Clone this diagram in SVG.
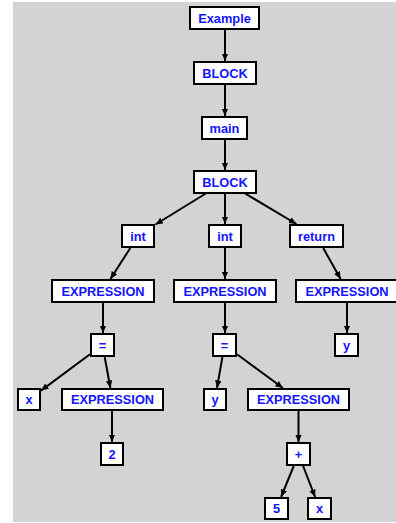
<svg xmlns="http://www.w3.org/2000/svg" width="396" height="523" viewBox="0 0 396 523">
  <style>
    .box { fill: #ffffff; stroke: #000000; stroke-width: 2; }
    .lbl { font-family: "Liberation Sans", Arial, sans-serif; font-weight: bold; font-size: 12.8px; fill: #1414ff; text-anchor: middle; }
    .edge { stroke: #000000; stroke-width: 2; fill: none; marker-end: url(#arrow); }
  </style>
  <defs>
    <marker id="arrow" markerUnits="userSpaceOnUse" markerWidth="9" markerHeight="8" refX="7.5" refY="3.25" orient="auto">
      <path d="M0,0 L7.5,3.25 L0,6.5 Z" fill="#000000"/>
    </marker>
  </defs>

  <!-- canvas -->
  <rect x="13" y="2" width="383" height="520" fill="#d3d3d3"/>

  <!-- connectors -->
  <g id="edges">
    <line class="edge" x1="225" y1="30" x2="225" y2="61"/>
    <line class="edge" x1="225" y1="85" x2="225" y2="116"/>
    <line class="edge" x1="225" y1="139" x2="225" y2="170"/>
    <line class="edge" x1="206.6" y1="193" x2="155.5" y2="224.5"/>
    <line class="edge" x1="225" y1="194" x2="225" y2="224"/>
    <line class="edge" x1="244.3" y1="193" x2="296.4" y2="224"/>
    <line class="edge" x1="130.3" y1="248" x2="110.4" y2="279"/>
    <line class="edge" x1="225" y1="248" x2="225" y2="279"/>
    <line class="edge" x1="323.2" y1="248" x2="340.6" y2="279"/>
    <line class="edge" x1="103" y1="302" x2="103" y2="333"/>
    <line class="edge" x1="225" y1="302" x2="225" y2="333"/>
    <line class="edge" x1="347" y1="302" x2="347" y2="333"/>
    <line class="edge" x1="90" y1="354.3" x2="41" y2="390.6"/>
    <line class="edge" x1="104.7" y1="357" x2="110.4" y2="388"/>
    <line class="edge" x1="222.4" y1="357" x2="217" y2="388"/>
    <line class="edge" x1="237" y1="354.2" x2="282.9" y2="388"/>
    <line class="edge" x1="112" y1="411" x2="112" y2="442"/>
    <line class="edge" x1="298.5" y1="411" x2="298.5" y2="442"/>
    <line class="edge" x1="293.7" y1="466" x2="281.1" y2="497"/>
    <line class="edge" x1="303.1" y1="466" x2="315.1" y2="497"/>
  </g>

  <!-- nodes -->
  <g id="n-example"><rect class="box" x="190" y="7" width="69" height="22"/><text class="lbl" x="224.5" y="22.5">Example</text></g>
  <g id="n-block1"><rect class="box" x="194" y="62" width="62" height="22"/><text class="lbl" x="225" y="77.5">BLOCK</text></g>
  <g id="n-main"><rect class="box" x="202" y="117" width="45" height="22"/><text class="lbl" x="224.5" y="132.5">main</text></g>
  <g id="n-block2"><rect class="box" x="194" y="171" width="62" height="22"/><text class="lbl" x="225" y="186.5">BLOCK</text></g>

  <g id="n-int1"><rect class="box" x="122" y="225" width="32" height="22"/><text class="lbl" x="138" y="240.5">int</text></g>
  <g id="n-int2"><rect class="box" x="209" y="225" width="32" height="22"/><text class="lbl" x="225" y="240.5">int</text></g>
  <g id="n-return"><rect class="box" x="290" y="225" width="53" height="22"/><text class="lbl" x="316.5" y="240.5">return</text></g>

  <g id="n-expr1"><rect class="box" x="52" y="280" width="102" height="22"/><text class="lbl" x="103" y="295.5">EXPRESSION</text></g>
  <g id="n-expr2"><rect class="box" x="174" y="280" width="102" height="22"/><text class="lbl" x="225" y="295.5">EXPRESSION</text></g>
  <g id="n-expr3"><rect class="box" x="296" y="280" width="102" height="22"/><text class="lbl" x="347" y="295.5">EXPRESSION</text></g>

  <g id="n-assign1"><rect class="box" x="91" y="334" width="23" height="22"/><text class="lbl" x="102.5" y="349.5">=</text></g>
  <g id="n-assign2"><rect class="box" x="213" y="334" width="23" height="22"/><text class="lbl" x="224.5" y="349.5">=</text></g>
  <g id="n-y1"><rect class="box" x="335" y="334" width="23" height="22"/><text class="lbl" x="346.5" y="349.5">y</text></g>

  <g id="n-x1"><rect class="box" x="18" y="389" width="22" height="21"/><text class="lbl" x="29" y="404">x</text></g>
  <g id="n-expr4"><rect class="box" x="62" y="389" width="101" height="21"/><text class="lbl" x="112.5" y="404">EXPRESSION</text></g>
  <g id="n-y2"><rect class="box" x="204" y="389" width="22" height="21"/><text class="lbl" x="215" y="404">y</text></g>
  <g id="n-expr5"><rect class="box" x="248" y="389" width="101" height="21"/><text class="lbl" x="298.5" y="404">EXPRESSION</text></g>

  <g id="n-two"><rect class="box" x="101" y="443" width="22" height="22"/><text class="lbl" x="112" y="458.5">2</text></g>
  <g id="n-plus"><rect class="box" x="287" y="443" width="23" height="22"/><text class="lbl" x="298.5" y="458.5">+</text></g>

  <g id="n-five"><rect class="box" x="265" y="498" width="23" height="21"/><text class="lbl" x="276.5" y="513">5</text></g>
  <g id="n-x2"><rect class="box" x="308" y="498" width="23" height="21"/><text class="lbl" x="319.5" y="513">x</text></g>
</svg>
